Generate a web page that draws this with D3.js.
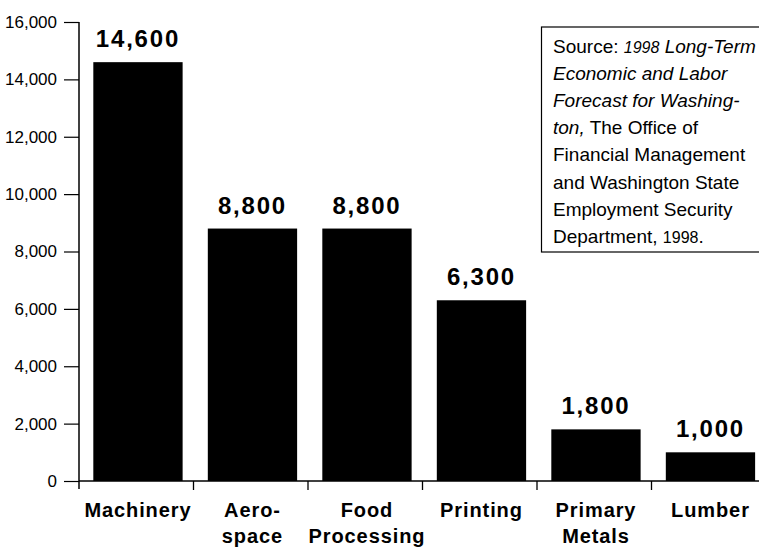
<!DOCTYPE html>
<html>
<head>
<meta charset="utf-8">
<script src="https://cdn.jsdelivr.net/npm/d3@7"></script>
<style>
  html, body { margin: 0; padding: 0; background: #fff; }
  svg { display: block; font-family: "Liberation Sans", Arial, Helvetica, sans-serif; }
</style>
</head>
<body>
<svg id="chart" width="759" height="554"></svg>
<script>
// Projected job growth by manufacturing industry
const categories = ["Machinery", "Aero-\nspace", "Food\nProcessing", "Printing", "Primary\nMetals", "Lumber"];
const values = [14600, 8800, 8800, 6300, 1800, 1000];
const yTicks = [0, 2000, 4000, 6000, 8000, 10000, 12000, 14000, 16000];
const sourceLines = [
  [{t: "Source: "}, {t: "1998", i: true, s: true}, {t: " Long-Term", i: true}],
  [{t: "Economic and Labor", i: true}],
  [{t: "Forecast for Washing-", i: true}],
  [{t: "ton,", i: true}, {t: " The Office of"}],
  [{t: "Financial Management"}],
  [{t: "and Washington State"}],
  [{t: "Employment Security"}],
  [{t: "Department, "}, {t: "1998", s: true}, {t: "."}]
];

const svg = d3.select("#chart");
const x0 = 79, x1 = 766, yTop = 22, yBase = 481;

const x = d3.scaleBand().domain(categories).range([x0, x1]).padding(0);
const step = x.step();
const y = d3.scaleLinear().domain([0, 16000]).range([yBase, yTop]);

const fmt = d3.format(",");

// Y axis
const yAxis = svg.append("g").attr("transform", `translate(${x0},0)`)
  .call(d3.axisLeft(y).tickValues(yTicks).tickFormat(fmt).tickSize(15).tickPadding(7));
yAxis.select(".domain").remove();
yAxis.selectAll(".tick line").attr("stroke", "#000").attr("stroke-width", 1.2);
yAxis.selectAll(".tick text").attr("font-size", 17).attr("fill", "#000")
  .attr("font-family", "Liberation Sans, Arial, sans-serif");
svg.append("line").attr("x1", x0).attr("x2", x0).attr("y1", yTop).attr("y2", yBase + 8)
  .attr("stroke", "#000").attr("stroke-width", 1.5);

// X axis baseline with ticks at category boundaries
svg.append("line").attr("x1", x0).attr("x2", 759).attr("y1", yBase).attr("y2", yBase)
  .attr("stroke", "#000").attr("stroke-width", 1.5);
svg.append("g").selectAll("line").data(categories.slice(0, -1)).join("line")
  .attr("x1", d => x(d) + step).attr("x2", d => x(d) + step)
  .attr("y1", yBase).attr("y2", yBase + 9)
  .attr("stroke", "#000").attr("stroke-width", 1.3);

// Bars
const inset = step * 0.125, bw = step * 0.78;
svg.append("g").selectAll("rect").data(categories).join("rect")
  .attr("x", d => x(d) + inset)
  .attr("width", bw)
  .attr("y", (d, i) => y(values[i]))
  .attr("height", (d, i) => yBase - y(values[i]))
  .attr("fill", "#000");

// Value labels
svg.append("g").selectAll("text").data(categories).join("text")
  .attr("x", d => x(d) + inset + bw / 2)
  .attr("y", (d, i) => y(values[i]) - 15)
  .attr("text-anchor", "middle")
  .attr("font-size", 24).attr("font-weight", "bold").attr("letter-spacing", 1.8)
  .text((d, i) => fmt(values[i]));

// Category labels
const cat = svg.append("g").selectAll("text").data(categories).join("text")
  .attr("text-anchor", "middle")
  .attr("font-size", 20).attr("font-weight", "bold").attr("letter-spacing", 0.9);
cat.each(function(d) {
  const cx = x(d) + inset + bw / 2;
  d3.select(this).selectAll("tspan").data(d.split("\n")).join("tspan")
    .attr("x", cx).attr("y", (t, j) => 517 + j * 26).text(t => t);
});

// Source note box
svg.append("rect").attr("x", 541.5).attr("y", 27).attr("width", 230).attr("height", 225)
  .attr("fill", "#fff").attr("stroke", "#000").attr("stroke-width", 1.2);
const src = svg.append("g").attr("font-size", 19);
sourceLines.forEach((parts, li) => {
  const t = src.append("text").attr("x", 553).attr("y", 53 + li * 27.1);
  parts.forEach(p => {
    t.append("tspan").text(p.t)
      .attr("font-style", p.i ? "italic" : null)
      .attr("font-size", p.s ? 16 : null);
  });
});
</script>
</body>
</html>
